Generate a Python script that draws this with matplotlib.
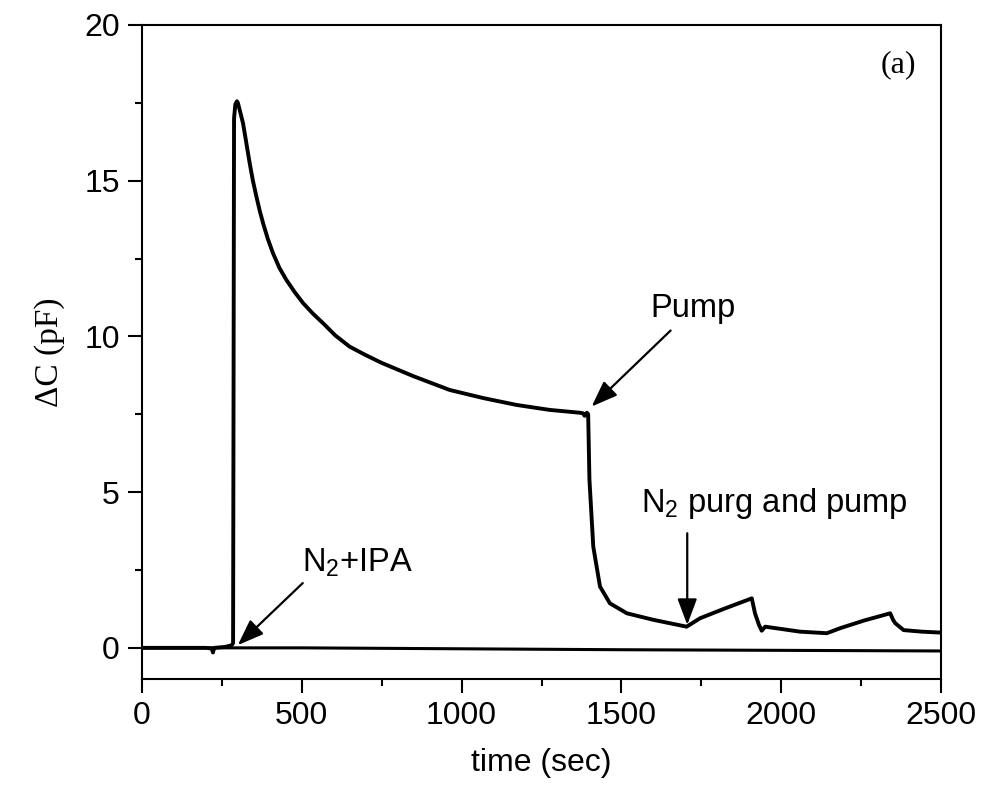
import matplotlib
matplotlib.use("Agg")
import matplotlib.pyplot as plt
from matplotlib.ticker import MultipleLocator

plt.rcParams['font.family'] = ['Liberation Sans', 'DejaVu Sans']
plt.rcParams['mathtext.fontset'] = 'custom'
plt.rcParams['mathtext.rm'] = 'Liberation Sans'
plt.rcParams['mathtext.it'] = 'Liberation Sans:italic'

# Sensor response
time_s = [0, 100, 200, 218, 222, 226, 260, 280, 285, 288, 292, 297, 300, 305,
          316, 325, 337, 347, 358, 368, 379, 394, 410, 430, 452, 478, 504, 535,
          567, 605, 650, 700, 750, 850, 963, 1068, 1172, 1276, 1370,
          1380, 1385, 1392, 1396, 1400, 1412, 1433, 1464, 1517, 1600, 1704,
          1746, 1820, 1908, 1918, 1930, 1939, 1950, 2059, 2143, 2184, 2260,
          2341, 2350, 2357, 2383, 2440, 2500]
delta_c = [0.0, 0.0, 0.0, -0.02, -0.15, 0.0, 0.03, 0.08, 0.15, 17.0, 17.45, 17.55,
           17.5, 17.3, 16.85, 16.3, 15.56, 15.0, 14.49, 14.05, 13.63, 13.12,
           12.67, 12.2, 11.81, 11.42, 11.07, 10.73, 10.42, 10.03, 9.67, 9.4,
           9.15, 8.72, 8.28, 8.02, 7.80, 7.64, 7.55, 7.53, 7.45, 7.55, 7.5, 5.4,
           3.25, 1.97, 1.43, 1.11, 0.90, 0.68, 0.95, 1.25, 1.59, 1.11, 0.75,
           0.55, 0.68, 0.52, 0.47, 0.63, 0.88, 1.11, 0.90, 0.79, 0.57, 0.52, 0.49]

# Reference (baseline) trace
base_t = [0, 500, 1000, 1500, 2000, 2500]
base_c = [0.0, 0.0, -0.03, -0.06, -0.08, -0.1]

fig = plt.figure(figsize=(9.82, 7.93), dpi=100)
ax = fig.add_axes([142 / 982, 1 - 679 / 793, (941 - 142) / 982, (679 - 25) / 793])

ax.plot(base_t, base_c, color='black', lw=2.2)
ax.plot(time_s, delta_c, color='black', lw=2.8, solid_joinstyle='round')

ax.set_xlim(0, 2500)
ax.set_ylim(-1, 20)
ax.xaxis.set_major_locator(MultipleLocator(500))
ax.xaxis.set_minor_locator(MultipleLocator(250))
ax.yaxis.set_major_locator(MultipleLocator(5))
ax.yaxis.set_minor_locator(MultipleLocator(2.5))
ax.tick_params(which='both', direction='out', width=1.5, top=False, right=False)
ax.tick_params(which='major', length=10, labelsize=23, pad=6)
ax.tick_params(which='minor', length=5)
for s in ax.spines.values():
    s.set_linewidth(1.5)

ax.set_xlabel('time (sec)', fontsize=23, labelpad=12)
ax.set_ylabel('\u0394C (pF)', fontsize=24, family=['Liberation Serif', 'DejaVu Serif'], labelpad=14)

arrow = dict(arrowstyle='-|>,head_length=0.8,head_width=0.3', color='black', lw=1.6,
             shrinkA=0, shrinkB=0, mutation_scale=20)

ax.annotate('', xy=(300, 0.09), xytext=(503, 2.08), arrowprops=arrow)
ax.text(500, 2.2, 'N$_2$+IPA', fontsize=23.5, ha='left', va='bottom')

ax.annotate('', xy=(1407, 7.75), xytext=(1654, 10.19), arrowprops=arrow)
ax.text(1724, 10.9, 'Pump', fontsize=23.5, ha='center', va='center')

ax.annotate('', xy=(1706, 0.74), xytext=(1706, 3.68), arrowprops=arrow)
ax.text(1562, 4.64, 'N$_2$ purg and pump', fontsize=23.5, ha='left', va='center')

ax.text(2366, 18.72, '(a)', fontsize=23, ha='center', va='center',
        family=['Liberation Serif', 'DejaVu Serif'])

fig.savefig('out.png', dpi=100)
